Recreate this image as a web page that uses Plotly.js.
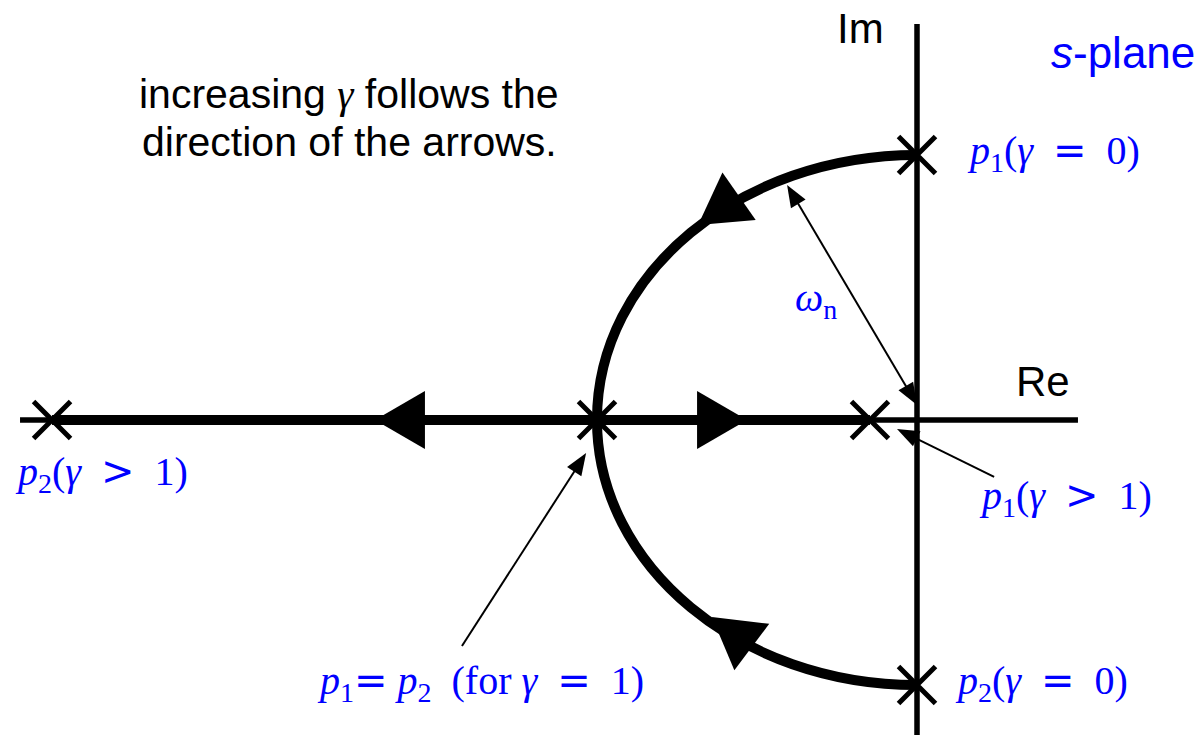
<!DOCTYPE html>
<html><head><meta charset="utf-8">
<script src="https://cdn.plot.ly/plotly-3.0.1.min.js"></script>
<style>html,body{margin:0;padding:0;background:#fff;}#chart{width:1202px;height:735px;}</style>
</head><body><div id="chart"></div>
<script>
// ---------------- data (s-plane, omega_n = 1) ----------------
const poleNames = ['p1 (γ=0)', 'p2 (γ=0)', 'p1=p2 (γ=1)', 'p1 (γ>1)', 'p2 (γ>1)'];
const poleRe = [0, 0, -1, -0.147, -2.703];
const poleIm = [1, -1, 0, 0, 0];
const omegaN = 1;
const reAxisEnds = [-2.803, 0.503];
const imAxisEnds = [1.494, -1.19];

// direction arrows on the locus: tip position and screen heading (deg, y down)
const dirArrowRe = [-1.694, -0.531, -0.684, -0.641];
const dirArrowIm = [0, 0, 0.736, -0.743];
const dirArrowHeading = [180, 0, 145, -143];

// thin pointer arrows
const ptrTailRe = [0.241, -1.422, 0.0];
const ptrTailIm = [-0.215, -0.853, 0.057];
const ptrTipRe = [-0.0625, -1.034, -0.406];
const ptrTipIm = [-0.034, -0.125, 0.887];
const ptrDouble = [false, false, true];

// labels
const REL = s => '<span style="font-family:\'DejaVu Sans\'">' + s + '</span>';
const mathLabelText = [
  '<i>p</i><sub>1</sub>(<i>γ</i>&nbsp;&nbsp;' + REL('=') + '&nbsp;&nbsp;0)',
  '<i>p</i><sub>2</sub>(<i>γ</i>&nbsp;&nbsp;' + REL('=') + '&nbsp;&nbsp;0)',
  '<i>p</i><sub>1</sub>(<i>γ</i>&nbsp;&nbsp;' + REL('&gt;') + '&nbsp;&nbsp;1)',
  '<i>p</i><sub>2</sub>(<i>γ</i>&nbsp;&nbsp;' + REL('&gt;') + '&nbsp;&nbsp;1)',
  '<i>p</i><sub>1</sub>' + REL('=') + '&nbsp;<i>p</i><sub>2</sub>&nbsp;&nbsp;(for&nbsp;<i>γ</i>&nbsp;&nbsp;' + REL('=') + '&nbsp;&nbsp;1)',
  '<i>ω</i><sub>n</sub>'
];
const mathLabelX = [0.150, 0.1125, 0.1875, -2.825, -1.881, -0.3875];
const mathLabelY = [1.008, -0.992, -0.294, -0.200, -0.989, 0.453];

const noteLines = ['increasing <span style="font-family:\'Liberation Serif\';font-style:italic">γ</span> follows the', 'direction of the arrows.'];
const noteX = -1.775;
const noteY = [1.230, 1.049];

// ---------------- geometry helpers ----------------
const X_RANGE = [-2.8656, 0.8906];
const Y_RANGE = [-1.1887, 1.5849];
const W = 1202, H = 735;
const pxX = W / (X_RANGE[1] - X_RANGE[0]);
const pxY = H / (Y_RANGE[1] - Y_RANGE[0]);

function headPath(tx, ty, hdgDeg, len, base) {
  const a = hdgDeg * Math.PI / 180;
  const ux = Math.cos(a), uy = Math.sin(a);
  const bx = -ux * len, by = -uy * len;
  const px = -uy * base / 2, py = ux * base / 2;
  const pts = [[0, 0], [bx + px, by + py], [bx - px, by - py]];
  return 'M ' + pts.map(p => (tx + p[0] / pxX).toFixed(5) + ',' + (ty - p[1] / pxY).toFixed(5)).join(' L ') + ' Z';
}
function heading(x0, y0, x1, y1) {
  return Math.atan2(-(y1 - y0) * pxY, (x1 - x0) * pxX) * 180 / Math.PI;
}

const traces = [];
// axes
traces.push({x: reAxisEnds, y: [0, 0], mode: 'lines', line: {color: 'black', width: 5.5}, hoverinfo: 'skip'});
traces.push({x: [0, 0], y: imAxisEnds, mode: 'lines', line: {color: 'black', width: 5.5}, hoverinfo: 'skip'});
// real-axis locus
traces.push({x: [poleRe[4], poleRe[3]], y: [poleIm[4], poleIm[3]], mode: 'lines', line: {color: 'black', width: 10}, hoverinfo: 'skip'});

// pointer lines
const shapes = [];
const HL = 22, HB = 17;
const ptrX = [], ptrY = [];
for (let i = 0; i < ptrTipRe.length; i++) {
  const h = heading(ptrTailRe[i], ptrTailIm[i], ptrTipRe[i], ptrTipIm[i]);
  const a = h * Math.PI / 180;
  const dx = Math.cos(a) * HL * 0.6 / pxX, dy = -Math.sin(a) * HL * 0.6 / pxY;
  const sx = ptrDouble[i] ? ptrTailRe[i] + dx : ptrTailRe[i];
  const sy = ptrDouble[i] ? ptrTailIm[i] + dy : ptrTailIm[i];
  ptrX.push(sx, ptrTipRe[i] - dx, null);
  ptrY.push(sy, ptrTipIm[i] - dy, null);
  shapes.push({type: 'path', xref: 'x', yref: 'y', layer: 'above', path: headPath(ptrTipRe[i], ptrTipIm[i], h, HL, HB), fillcolor: 'black', line: {width: 0}});
  if (ptrDouble[i]) {
    shapes.push({type: 'path', xref: 'x', yref: 'y', layer: 'above', path: headPath(ptrTailRe[i], ptrTailIm[i], h + 180, HL, HB), fillcolor: 'black', line: {width: 0}});
  }
}
traces.push({x: ptrX, y: ptrY, mode: 'lines', line: {color: 'black', width: 2}, hoverinfo: 'skip', connectgaps: false});

// poles
traces.push({x: poleRe, y: poleIm, text: poleNames, mode: 'markers', hoverinfo: 'text',
  marker: {symbol: 'x-thin', size: 37, color: 'black', line: {color: 'black', width: 5}}});

// circular locus (quarter arcs as cubic Beziers)
const k = 0.5523 * omegaN;
const c = [poleRe[2] + omegaN, 0];
const arcPath = `M ${poleRe[0]},${poleIm[0]} C ${c[0] - k},${omegaN} ${-omegaN + c[0]},${k} ${poleRe[2]},${poleIm[2]} ` +
  `C ${-omegaN + c[0]},${-k} ${c[0] - k},${-omegaN} ${poleRe[1]},${poleIm[1]}`;
shapes.unshift({type: 'path', xref: 'x', yref: 'y', layer: 'below', path: arcPath, line: {color: 'black', width: 10}});

// locus direction arrows
for (let i = 0; i < dirArrowRe.length; i++) {
  shapes.push({type: 'path', xref: 'x', yref: 'y', layer: 'above', path: headPath(dirArrowRe[i], dirArrowIm[i], dirArrowHeading[i], 50, 58), fillcolor: 'black', line: {width: 0}});
}

// annotations
const annotations = [];
const mathFont = {family: 'Liberation Serif', size: 40, color: '#0000ff'};
for (let i = 0; i < mathLabelText.length; i++) {
  annotations.push({x: mathLabelX[i], y: mathLabelY[i], xref: 'x', yref: 'y', text: mathLabelText[i], showarrow: false, xanchor: 'left', yanchor: 'middle', font: mathFont});
}
const sansFont = {family: 'Liberation Sans', size: 41, color: 'black'};
for (let i = 0; i < noteLines.length; i++) {
  annotations.push({x: noteX, y: noteY[i], xref: 'x', yref: 'y', text: noteLines[i], showarrow: false, xanchor: 'center', yanchor: 'middle', font: sansFont});
}
annotations.push({x: -0.178, y: 1.479, xref: 'x', yref: 'y', text: 'Im', showarrow: false, xanchor: 'center', yanchor: 'middle', font: {family: 'Liberation Sans', size: 42, color: 'black'}});
annotations.push({x: 0.394, y: 0.147, xref: 'x', yref: 'y', text: 'Re', showarrow: false, xanchor: 'center', yanchor: 'middle', font: {family: 'Liberation Sans', size: 42, color: 'black'}});
annotations.push({x: 0.875, y: 1.385, xref: 'x', yref: 'y', text: '<i>s</i>-plane', showarrow: false, xanchor: 'right', yanchor: 'middle', font: {family: 'Liberation Sans', size: 44, color: '#0000ff'}});

const layout = {
  width: W, height: H,
  margin: {l: 0, r: 0, t: 0, b: 0, pad: 0},
  paper_bgcolor: 'white', plot_bgcolor: 'white',
  showlegend: false,
  xaxis: {range: X_RANGE, visible: false, fixedrange: true},
  yaxis: {range: Y_RANGE, visible: false, fixedrange: true},
  shapes: shapes,
  annotations: annotations
};
Plotly.newPlot('chart', traces, layout, {displayModeBar: false, staticPlot: true});
</script>
</body></html>
